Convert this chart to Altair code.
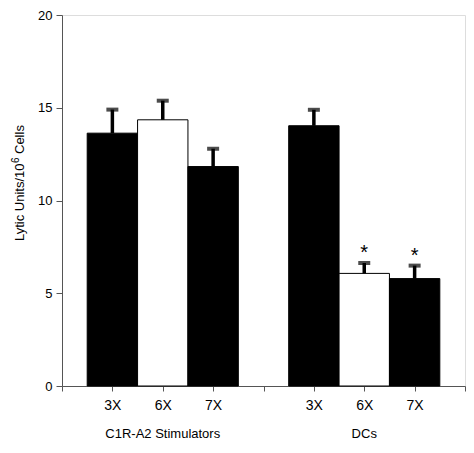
import altair as alt
import pandas as pd

# ---- data ----
positions = [1, 2, 3, 5, 6, 7]
doses = ["3X", "6X", "7X", "3X", "6X", "7X"]
groups = ["C1R-A2 Stimulators"] * 3 + ["DCs"] * 3
values = [13.63, 14.35, 11.83, 14.03, 6.07, 5.79]
errors = [1.27, 1.03, 0.96, 0.86, 0.56, 0.70]
fills = ["black", "white", "black", "black", "white", "black"]
stars = ["", "", "", "", "*", "*"]

group_names = ["C1R-A2 Stimulators", "DCs"]
group_centers = [2, 6]

y_ticks = [0, 5, 10, 15, 20]
x_ticks = [0, 1, 2, 3, 4, 5, 6, 7, 8]
ytitle_parts = ["Lytic Units/10", "6", "Cells"]

df = pd.DataFrame({
    "pos": positions, "dose": doses, "group": groups,
    "value": values, "err": errors, "fill": fills, "star": stars,
})
df["x0"] = df["pos"] - 0.5
df["x1"] = df["pos"] + 0.5
df["top"] = df["value"] + df["err"]

gdf = pd.DataFrame({"name": group_names, "center": group_centers})

# label expression built from the arrays
pairs = {}
for p, d in zip(positions, doses):
    pairs[p] = d
expr = ""
for p, d in pairs.items():
    expr += f"datum.value == {p} ? '{d}' : "
expr += "''"

FONT = "Liberation Sans"
xscale = alt.Scale(domain=[0, 8], nice=False, zero=False, padding=0)
yscale = alt.Scale(domain=[0, 20], nice=False, padding=0)

W, H = 403, 371

base = alt.Chart(df)

bars = base.mark_bar(stroke="black", strokeWidth=1).encode(
    x=alt.X("x0:Q", scale=xscale, axis=alt.Axis(
        values=x_ticks, labelExpr=expr, title=None, grid=False,
        tickSize=5, labelPadding=7, labelFontSize=14, labelFont=FONT,
        labelColor="black", domainColor="#555", tickColor="#555")),
    x2="x1:Q",
    y=alt.Y("value:Q", scale=yscale, axis=alt.Axis(
        values=y_ticks, title=None, grid=False, tickSize=6, labelPadding=4,
        labelFontSize=13, labelFont=FONT, labelColor="black",
        domainColor="#555", tickColor="#555")),
    y2=alt.datum(0),
    fill=alt.Fill("fill:N", scale=None),
)

err_lines = base.mark_rule(color="black", strokeWidth=3.5).encode(
    x=alt.X("pos:Q", scale=xscale), y=alt.Y("value:Q", scale=yscale), y2="top:Q"
)
caps = base.mark_tick(color="black", orient="horizontal", size=12, thickness=4).encode(
    x=alt.X("pos:Q", scale=xscale), y=alt.Y("top:Q", scale=yscale)
)
star_txt = base.mark_text(font=FONT, fontSize=20, baseline="alphabetic", dy=-4).encode(
    x=alt.X("pos:Q", scale=xscale), y=alt.Y("top:Q", scale=yscale), text="star:N"
)

group_txt = alt.Chart(gdf).mark_text(font=FONT, fontSize=13, baseline="alphabetic").encode(
    x=alt.X("center:Q", scale=xscale), y=alt.value(H + 52), text="name:N"
)

t1 = alt.Chart(pd.DataFrame({"t": [ytitle_parts[0]]})).mark_text(
    font=FONT, fontSize=13, angle=270, align="left", baseline="alphabetic"
).encode(x=alt.value(-38), y=alt.value(226), text="t:N")
t2 = alt.Chart(pd.DataFrame({"t": [ytitle_parts[1]]})).mark_text(
    font=FONT, fontSize=10, angle=270, align="left", baseline="alphabetic"
).encode(x=alt.value(-43), y=alt.value(148), text="t:N")
t3 = alt.Chart(pd.DataFrame({"t": [ytitle_parts[2]]})).mark_text(
    font=FONT, fontSize=13, angle=270, align="left", baseline="alphabetic"
).encode(x=alt.value(-38), y=alt.value(139), text="t:N")

chart = alt.layer(bars, err_lines, caps, star_txt, group_txt, t1, t2, t3).properties(
    width=W, height=H,
    autosize=alt.AutoSizeParams(type="none"),
    padding={"left": 54, "top": 7, "right": 1, "bottom": 55},
).configure_view(stroke="#666", strokeWidth=1).configure(background="white")

chart.save("out.html", embed_options={"renderer": "svg", "actions": False})
